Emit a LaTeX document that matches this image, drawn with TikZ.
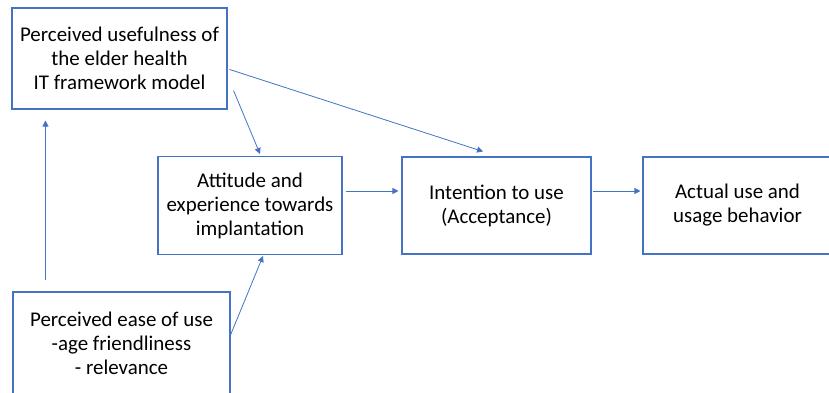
\documentclass[tikz,border=0pt]{standalone}
\usepackage{fontspec}
\setmainfont{Carlito}
\usetikzlibrary{arrows.meta,calc}
\definecolor{boxblue}{HTML}{4472C4}
\begin{document}
\begin{tikzpicture}[x=0.75pt,y=-0.75pt,
	box/.style={draw=boxblue, line width=0.8pt, rectangle, align=center, inner sep=0pt, font=\fontsize{15.7}{18}\selectfont},
	link/.style={draw=boxblue, line width=0.6pt, -{Triangle[length=4.5pt,width=4.5pt]}}]
	\useasboundingbox (0,0) rectangle (829,393);
	\clip (0,0) rectangle (829,393);

	\node[box, minimum width=161.25pt, minimum height=75.75pt] (useful) at (119.5,58.5) {Perceived usefulness of\\the elder health\\IT framework model};
	\node[box, minimum width=138pt, minimum height=73.5pt] (attitude) at (250,205.5) {Attitude and\\experience towards\\implantation};
	\node[box, minimum width=141.75pt, minimum height=72.75pt] (intention) at (496.5,205.5) {Intention to use\\(Acceptance)};
	\node[box, minimum width=141.75pt, minimum height=72.75pt] (actual) at (737.5,205.5) {Actual use and\\usage behavior};
	\node[box, minimum width=162.75pt, minimum height=76.5pt] (ease) at (121.5,343) {Perceived ease of use\\-age friendliness\\- relevance};

	\draw[link] ($(ease.north west)+(33,-11)$) -- ($(useful.south west)+(34,11)$);
	\draw[link] ($(useful.south east)+(6,-19)$) -- ($(attitude.north)+(10,-2)$);
	\draw[link] ($(useful.north east)+(2,62)$) -- ($(intention.north)+(-13.5,-5)$);
	\draw[link] ($(attitude.east)+(3,-14.5)$) -- ($(intention.west)+(-3,-14.5)$);
	\draw[link] ($(intention.east)+(1,-14.5)$) -- ($(actual.west)+(-2,-14.5)$);
	\draw[link] ($(ease.east)+(0,-8)$) -- ($(attitude.south)+(13,1)$);
\end{tikzpicture}
\end{document}
